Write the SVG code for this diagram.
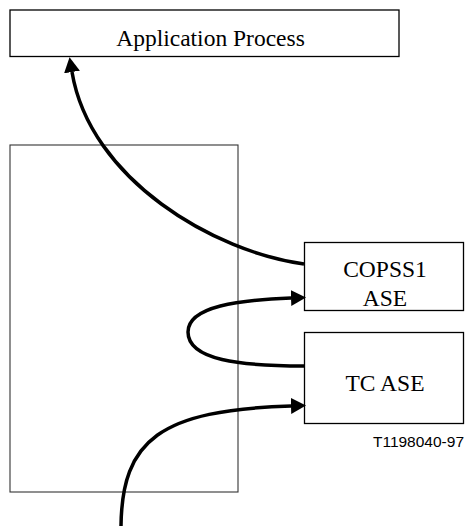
<svg xmlns="http://www.w3.org/2000/svg" width="465" height="526" viewBox="0 0 465 526">
<style>
.box{fill:#fff;stroke:#000;stroke-width:1.3}
.frame{fill:none;stroke:#333;stroke-width:1.1}
.lbl{font-family:"Liberation Serif","Times New Roman",serif;font-size:23.5px;fill:#000;text-anchor:middle}
.ref{font-family:"Liberation Sans",Arial,sans-serif;font-size:15.5px;fill:#000;text-anchor:end}
.conn{fill:none;stroke:#000;stroke-width:3.5}
</style>
<defs>
<marker id="ah" markerUnits="userSpaceOnUse" markerWidth="17" markerHeight="17" refX="0" refY="8" orient="auto">
<path d="M0,0 L15,8 L0,16 Z" fill="#000"/>
</marker>
</defs>
<g id="frame"><rect class="frame" x="10" y="145" width="228" height="347"/></g>
<g id="app"><rect class="box" x="10" y="10" width="389" height="46.5"/><text class="lbl" x="210.5" y="45.5">Application Process</text></g>
<g id="copss1"><rect class="box" x="304.5" y="242.5" width="159" height="68"/><text class="lbl" x="385" y="277">COPSS1</text><text class="lbl" x="385" y="306">ASE</text></g>
<g id="tcase"><rect class="box" x="304.5" y="332.5" width="159" height="91"/><text class="lbl" x="385" y="391">TC ASE</text></g>
<g id="label"><text class="ref" x="464" y="447">T1198040-97</text></g>
<g id="connectors">
<path class="conn" marker-end="url(#ah)" d="M304,264 C215,252 90,180 72,72"/>
<path class="conn" marker-end="url(#ah)" d="M304,366 C240,366 188,360 188,332 C188,306 240,300 291,298"/>
<path class="conn" marker-end="url(#ah)" d="M121,526 C122,440 160,410 291,406"/>
</g>
</svg>
